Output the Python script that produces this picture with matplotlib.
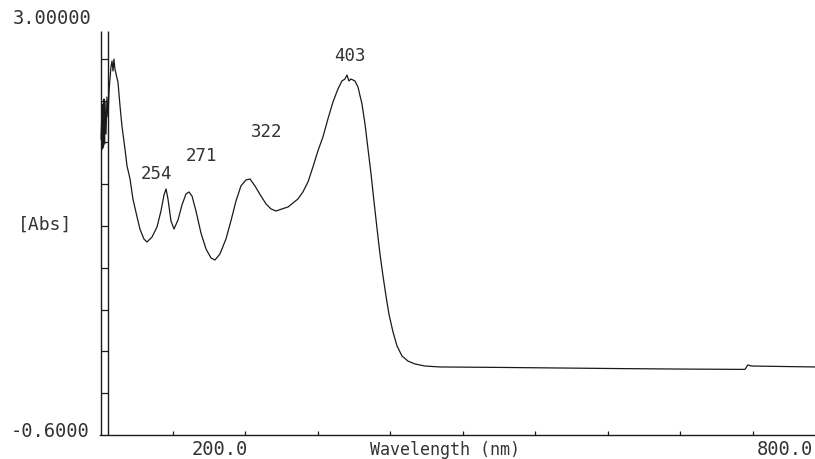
import numpy as np
import matplotlib
matplotlib.use('Agg')
import matplotlib.pyplot as plt

# spectrum (nm, Abs)
wavelength = [200.7, 201.5, 201.9, 202.3, 202.7, 203.1, 203.6, 204.0, 204.8, 205.6,
              206.5, 207.3, 208.1, 208.9, 209.8, 210.6, 211.4, 212.2, 213.1, 214.7,
              216.4, 218.0, 220.5, 222.2, 224.7, 227.1, 230.5, 232.9, 236.2, 238.7,
              242.9, 247.0, 250.3, 252.8, 254.5, 256.1, 258.6, 261.1, 264.4, 267.7,
              271.0, 273.5, 276.0, 279.3, 283.4, 287.6, 291.7, 295.0, 299.1, 304.1,
              308.2, 312.4, 316.5, 320.6, 324.0, 328.1, 333.1, 337.3, 341.4, 345.5,
              350.5, 355.5, 359.6, 363.7, 367.8, 372.0, 376.1, 380.2, 384.4, 388.5,
              392.7, 396.8, 400.1, 402.6, 404.3, 405.9, 407.6, 410.9, 413.4, 416.7,
              419.2, 421.7, 424.2, 426.7, 429.2, 431.6, 434.1, 436.6, 439.0, 442.4,
              445.7, 449.8, 454.7, 460.5, 468.8, 481.2, 530.9, 580.5, 630.2, 679.9,
              733.7, 736.1, 739.4, 791.5]
absorbance = [1.949, 2.208, 1.863, 2.251, 1.880, 2.294, 1.906, 2.268, 1.992, 2.311,
              2.139, 2.363, 2.466, 2.569, 2.621, 2.535, 2.638, 2.552, 2.509, 2.440,
              2.234, 2.061, 1.863, 1.717, 1.605, 1.433, 1.278, 1.174, 1.088, 1.062,
              1.105, 1.191, 1.329, 1.467, 1.519, 1.433, 1.243, 1.174, 1.252, 1.381,
              1.476, 1.493, 1.458, 1.329, 1.140, 1.002, 0.925, 0.907, 0.959, 1.088,
              1.243, 1.415, 1.545, 1.596, 1.605, 1.545, 1.458, 1.390, 1.347, 1.329,
              1.347, 1.364, 1.398, 1.433, 1.493, 1.579, 1.708, 1.846, 1.967, 2.122,
              2.268, 2.380, 2.449, 2.466, 2.500, 2.449, 2.466, 2.449, 2.397, 2.251,
              2.079, 1.863, 1.648, 1.407, 1.174, 0.959, 0.770, 0.597, 0.442, 0.287,
              0.167, 0.081, 0.037, 0.012, -0.006, -0.014, -0.018, -0.023, -0.028, -0.032,
              -0.035, 0.003, -0.006, -0.014]

peak_labels = ['254', '271', '322', '403']
peak_x = [246.5, 283.5, 337.5, 406.5]
peak_y = [1.66, 1.81, 2.02, 2.67]

font = 'DejaVu Sans Mono'
ink = '#1a1a1a'
txt = '#333333'

fig = plt.figure(figsize=(8.15, 4.6), dpi=100)
ax = fig.add_axes([100.2 / 815, 24 / 460, 724.8 / 815, 418 / 460])
ax.set_xlim(200, 800)
ax.set_ylim(-0.6, 3.0)

ax.plot(wavelength, absorbance, color=ink, lw=0.9)

for s in ['top', 'right', 'left']:
    ax.spines[s].set_visible(False)
ax.spines['bottom'].set_color(ink)
ax.spines['bottom'].set_linewidth(1.0)

# double left axis with ticks between the lines
ax.vlines([201.0, 206.6], -0.6, 2.88, color=ink, lw=1.0)
yt = np.linspace(-0.6, 3.0, 11)[1:-1]
ax.hlines(yt, 201.0, 206.6, color=ink, lw=0.9)

ax.set_xticks(np.arange(260, 800, 60))
ax.set_yticks([])
ax.tick_params(axis='x', direction='in', length=3, width=0.9, color=ink,
               labelbottom=False)

for lab, x, y in zip(peak_labels, peak_x, peak_y):
    ax.text(x, y, lab, ha='center', va='center', family=font, fontsize=12.5,
            color=txt)

fig.text(52 / 815, 1 - 18 / 460, '3.00000', ha='center', va='center',
         family=font, fontsize=13.5, color=txt)
fig.text(45 / 815, 1 - 225 / 460, '[Abs]', ha='center', va='center',
         family=font, fontsize=13, color=txt)
fig.text(50 / 815, 1 - 432 / 460, '-0.6000', ha='center', va='center',
         family=font, fontsize=13.5, color=txt)
fig.text(220 / 815, 1 - 450 / 460, '200.0', ha='center', va='center',
         family=font, fontsize=13.5, color=txt)
fig.text(445 / 815, 1 - 450 / 460, 'Wavelength (nm)', ha='center', va='center',
         family=font, fontsize=12, color=txt)
fig.text(785 / 815, 1 - 450 / 460, '800.0', ha='center', va='center',
         family=font, fontsize=13.5, color=txt)

fig.savefig('out.png', dpi=100)
